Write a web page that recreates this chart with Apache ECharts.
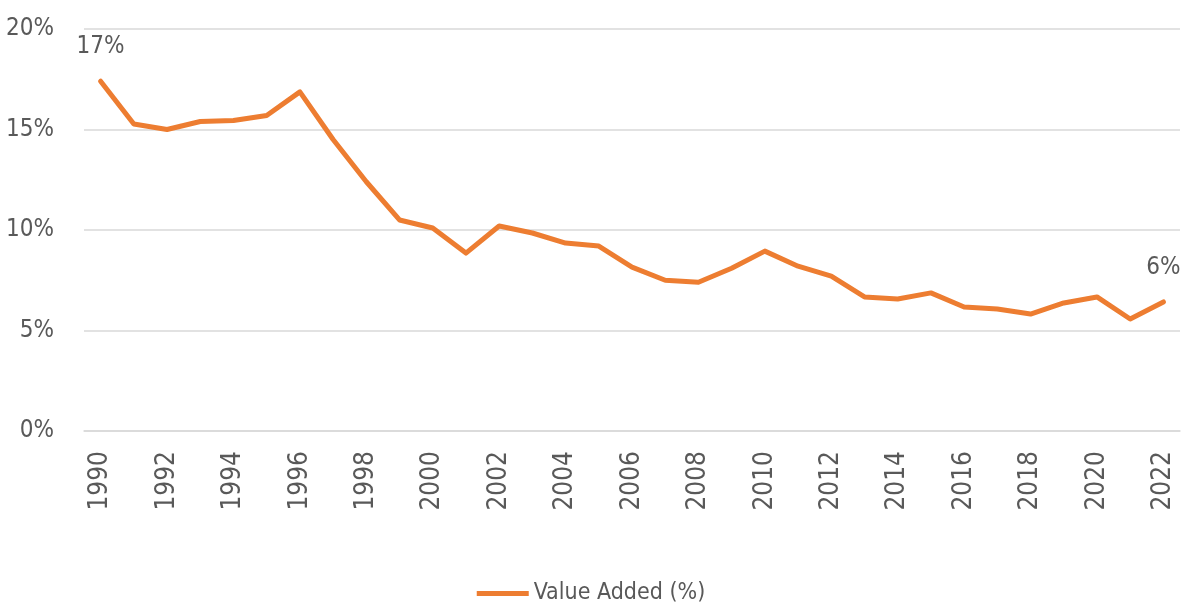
<!DOCTYPE html>
<html>
<head>
<meta charset="utf-8">
<script src="https://cdn.jsdelivr.net/npm/echarts@6/dist/echarts.min.js"></script>
<style>
  html, body { margin: 0; padding: 0; background: #fff; }
  #chart { width: 1182px; height: 606px; }
</style>
</head>
<body>
<div id="chart"></div>
<script>
var years = [];
for (var y = 1990; y <= 2022; y++) years.push(String(y));

// value added (%)
var valueAdded = [
  17.4, 15.27, 15.0, 15.4, 15.45, 15.7, 16.87, 14.5, 12.4, 10.5,
  10.1, 8.85, 10.2, 9.85, 9.35, 9.2, 8.15, 7.5, 7.4, 8.1,
  8.95, 8.2, 7.7, 6.67, 6.57, 6.87, 6.17, 6.07, 5.82, 6.37,
  6.67, 5.57, 6.42
];
var yTicks = [0, 5, 10, 15, 20];

var fontFam = '"DejaVu Sans Condensed", "Liberation Sans Narrow", sans-serif';
var textColor = "#595959";
var orange = "#ED7D31";

var chart = echarts.init(document.getElementById("chart"));

var seriesData = valueAdded.map(function (v, i) {
  var item = { value: v };
  // only first and last point carry a label
  if (i === 0 || i === valueAdded.length - 1) {
    item.label = { show: true };
  }
  return item;
});

chart.setOption({
  animation: false,
  grid: { left: 84, right: 2, top: 29, bottom: 175 },
  legend: {
    bottom: -4,
    left: "center",
    icon: "path://M0,0 L52,0 L52,5 L0,5 Z",
    itemWidth: 52,
    itemHeight: 5,
    itemGap: 8,
    textStyle: { fontFamily: fontFam, fontSize: 23, color: textColor },
    data: ["Value Added (%)"]
  },
  xAxis: {
    type: "category",
    boundaryGap: true,
    data: years,
    axisLine: { show: true, lineStyle: { color: "#D9D9D9", width: 1.5 } },
    axisTick: { show: false },
    axisLabel: {
      interval: 1,
      rotate: 90,
      margin: 20,
      fontFamily: fontFam,
      fontSize: 26,
      color: textColor
    }
  },
  yAxis: {
    type: "value",
    min: yTicks[0],
    max: yTicks[yTicks.length - 1],
    interval: 5,
    axisLine: { show: false },
    axisTick: { show: false },
    splitLine: { lineStyle: { color: "#D9D9D9", width: 1.5 } },
    axisLabel: {
      margin: 30,
      fontFamily: fontFam,
      fontSize: 24,
      color: textColor,
      formatter: "{value}%"
    }
  },
  series: [
    {
      name: "Value Added (%)",
      type: "line",
      data: seriesData,
      symbol: "circle",
      symbolSize: 0,
      showSymbol: true,
      itemStyle: { color: orange },
      lineStyle: { color: orange, width: 5, cap: "round", join: "round" },
      label: {
        show: false,
        position: "top",
        distance: 22,
        fontFamily: fontFam,
        fontSize: 24,
        color: textColor,
        formatter: function (p) { return Math.round(p.value) + "%"; }
      }
    }
  ]
});
</script>
</body>
</html>
